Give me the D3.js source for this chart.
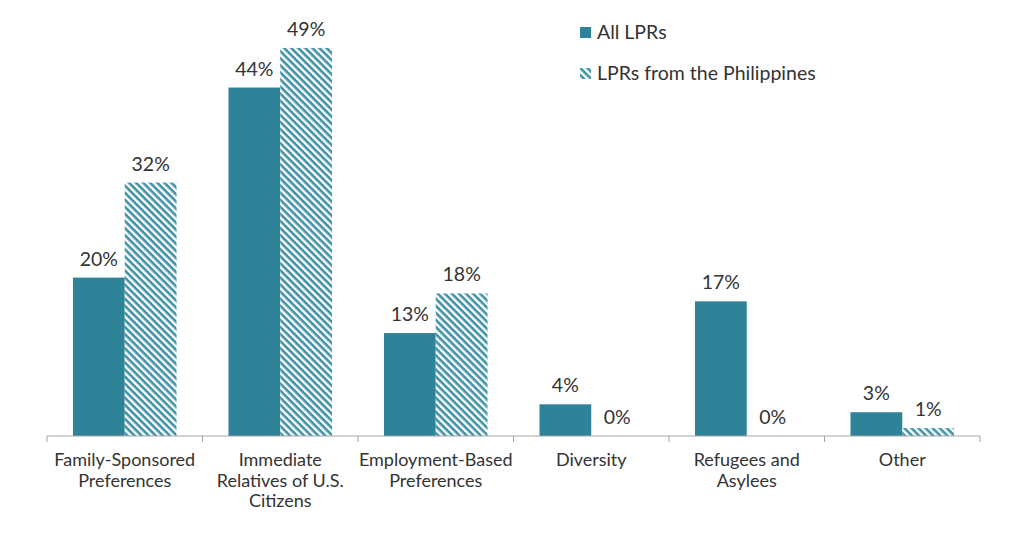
<!DOCTYPE html>
<html>
<head>
<meta charset="utf-8">
<script src="https://cdn.jsdelivr.net/npm/d3@7"></script>
<style>
  body { margin: 0; background: #fff; }
  svg { display: block; font-family: Lato, "Open Sans", sans-serif; }
</style>
</head>
<body>
<div id="chart"></div>
<script>
var categories = [
  ["Family-Sponsored", "Preferences"],
  ["Immediate", "Relatives of U.S.", "Citizens"],
  ["Employment-Based", "Preferences"],
  ["Diversity"],
  ["Refugees and", "Asylees"],
  ["Other"]
];
var seriesNames = ["All LPRs", "LPRs from the Philippines"];
var allLPRs = [20, 44, 13, 4, 17, 3];
var philippines = [32, 49, 18, 0, 0, 1];

var width = 1024, height = 536;
var margin = {left: 47, right: 44, top: 40, bottom: 100};
var innerW = width - margin.left - margin.right,
    innerH = height - margin.top - margin.bottom;
var teal = "#2f8399";

var svg = d3.select("#chart").append("svg")
    .attr("width", width)
    .attr("height", height);

var defs = svg.append("defs");
var pat = defs.append("pattern")
    .attr("id", "hatch")
    .attr("patternUnits", "userSpaceOnUse")
    .attr("width", 5)
    .attr("height", 5)
    .attr("patternTransform", "rotate(45)");
pat.append("rect").attr("width", 5).attr("height", 5).attr("fill", "#fff");
pat.append("rect").attr("width", 5).attr("height", 2.6).attr("fill", "#3f91a8");

var g = svg.append("g").attr("transform", "translate(" + margin.left + "," + margin.top + ")");

var x0 = d3.scaleBand()
    .domain(d3.range(categories.length))
    .range([0, innerW])
    .paddingInner(0.334)
    .paddingOuter(0.167);
var x1 = d3.scaleBand()
    .domain([0, 1])
    .range([0, x0.bandwidth()]);
var y = d3.scaleLinear()
    .domain([0, 50])
    .range([innerH, 0]);

var data = categories.map(function(c, i) {
  return {i: i, values: [allLPRs[i], philippines[i]]};
});

var groups = g.selectAll(".grp")
    .data(data)
    .enter().append("g")
    .attr("transform", function(d) { return "translate(" + x0(d.i) + ",0)"; });

groups.selectAll("rect")
    .data(function(d) { return d.values.map(function(v, k) { return {k: k, v: v}; }); })
    .enter().append("rect")
    .attr("x", function(d) { return x1(d.k); })
    .attr("y", function(d) { return y(d.v); })
    .attr("width", x1.bandwidth())
    .attr("height", function(d) { return innerH - y(d.v); })
    .attr("fill", function(d) { return d.k === 0 ? teal : "url(#hatch)"; });

groups.selectAll("text.val")
    .data(function(d) { return d.values.map(function(v, k) { return {k: k, v: v}; }); })
    .enter().append("text")
    .attr("class", "val")
    .attr("x", function(d) { return x1(d.k) + x1.bandwidth() / 2; })
    .attr("y", function(d) { return y(d.v) - 12; })
    .attr("text-anchor", "middle")
    .attr("font-size", 19.5)
    .attr("fill", "#333")
    .text(function(d) { return d.v + "%"; });

// x axis
var axis = g.append("g").attr("transform", "translate(0," + innerH + ")");
axis.append("line")
    .attr("x1", 0).attr("x2", innerW)
    .attr("stroke", "#a6a6a6").attr("stroke-width", 1);
axis.selectAll("line.tick")
    .data(d3.range(categories.length + 1))
    .enter().append("line")
    .attr("class", "tick")
    .attr("x1", function(d) { return d * innerW / categories.length; })
    .attr("x2", function(d) { return d * innerW / categories.length; })
    .attr("y1", 0).attr("y2", 6)
    .attr("stroke", "#a6a6a6");

var labels = axis.selectAll("text.cat")
    .data(data)
    .enter().append("text")
    .attr("class", "cat")
    .attr("x", function(d) { return x0(d.i) + x0.bandwidth() / 2; })
    .attr("y", 30)
    .attr("text-anchor", "middle")
    .attr("font-size", 18)
    .attr("fill", "#333");
labels.selectAll("tspan")
    .data(function(d) { return categories[d.i]; })
    .enter().append("tspan")
    .attr("x", function() { return d3.select(this.parentNode).attr("x"); })
    .attr("dy", function(d, k) { return k === 0 ? 0 : 20.5; })
    .text(function(d) { return d; });

// legend
var legend = svg.append("g").attr("transform", "translate(580,0)");
var items = legend.selectAll("g")
    .data(seriesNames)
    .enter().append("g")
    .attr("transform", function(d, k) { return "translate(0," + (32 + k * 41) + ")"; });
items.append("rect")
    .attr("x", 0).attr("y", -5)
    .attr("width", 11).attr("height", 11)
    .attr("fill", function(d, k) { return k === 0 ? teal : "url(#hatch)"; });
items.append("text")
    .attr("x", 17)
    .attr("y", 7)
    .attr("font-size", 19.5)
    .attr("fill", "#333")
    .text(function(d) { return d; });
</script>
</body>
</html>
